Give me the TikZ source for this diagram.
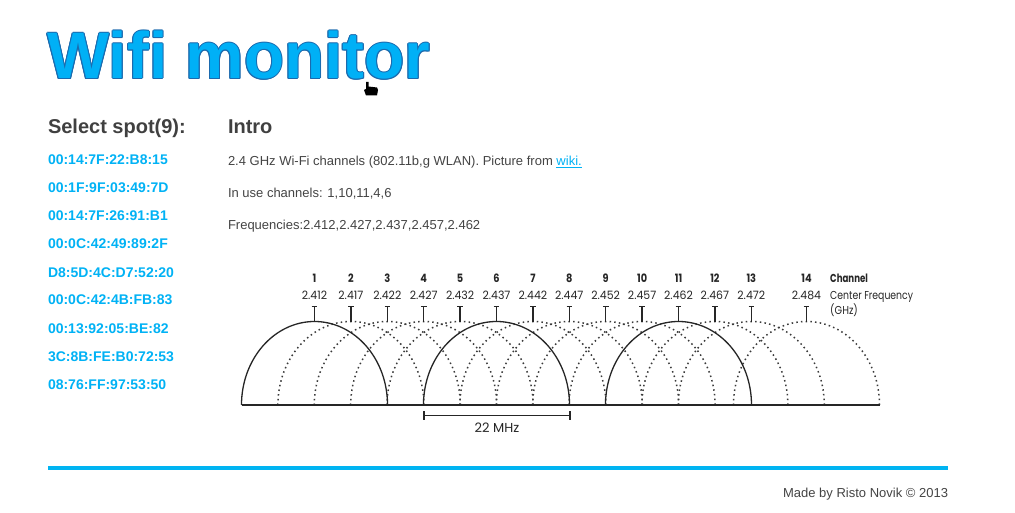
\documentclass[tikz,border=0pt]{standalone}
\usepackage{fontspec}
\setmainfont{Liberation Sans}
\newfontfamily\diagfont{Poppins}
\definecolor{headgray}{HTML}{404040}
\definecolor{bodygray}{HTML}{444444}
\definecolor{maccyan}{HTML}{00B2F5}
\definecolor{titlefill}{HTML}{00B0F6}
\definecolor{titleedge}{HTML}{1B6AAE}
\definecolor{footblue}{HTML}{00B4F2}
\definecolor{ink}{HTML}{262626}
\definecolor{dotink}{HTML}{3A3A3A}
\begin{document}
\begin{tikzpicture}[x=1pt,y=-1pt,
  txt/.style={anchor=base west, inner sep=0pt, outer sep=0pt},
  titletxt/.style={txt, font=\fontsize{65.7}{66}\selectfont\bfseries},
  headtxt/.style={txt, text=headgray, font=\fontsize{20}{20}\selectfont\bfseries},
  mactxt/.style={txt, text=maccyan, font=\fontsize{14}{14}\selectfont\bfseries},
  bodytxt/.style={txt, text=bodygray, font=\fontsize{13}{13}\selectfont},
  chnum/.style={anchor=base, inner sep=0pt, text=ink, font=\diagfont\fontsize{11.5}{11.5}\selectfont\bfseries},
  chfreq/.style={anchor=base, inner sep=0pt, text=ink, font=\diagfont\fontsize{11.5}{11.5}\selectfont},
  legtxt/.style={anchor=base west, inner sep=0pt, text=ink, font=\diagfont\fontsize{11.5}{11.5}\selectfont},
  solidarch/.style={draw=ink, line width=1.3pt},
  dotarch/.style={draw=dotink, line width=1.5pt, dash pattern=on 1.5pt off 3.2pt},
  tickline/.style={draw=ink, line width=1.3pt},
]
\path[use as bounding box, fill=white] (0,0) rectangle (1015,513);

% title with outline
\foreach \dx/\dy [count=\i] in {1/0,-1/0,0/1,0/-1,0.7/0.7,-0.7/0.7,0.7/-0.7,-0.7/-0.7}
  \node[titletxt, text=titleedge] (titleedge\i) at (47.5+\dx,79+\dy) {Wifi monitor};
\node[titletxt, text=titlefill] (title) at (47.5,79) {Wifi monitor};

% cursor
\fill[black] (366,82) -- (368.5,82) -- (368.5,86.5) -- (377,87.5) -- (378,90) -- (377,95.5) -- (366,95.5) -- (364,90) -- (366,89) -- cycle;

% left column
\node[headtxt] (selecthead) at (48,134) {Select spot(9):};
\foreach \m [count=\i] in {00:14:7F:22:B8:15,00:1F:9F:03:49:7D,00:14:7F:26:91:B1,00:0C:42:49:89:2F,D8:5D:4C:D7:52:20,00:0C:42:4B:FB:83,00:13:92:05:BE:82,3C:8B:FE:B0:72:53,08:76:FF:97:53:50}
  \node[mactxt] (mac\i) at (48,{165+28*(\i-1)}) {\m};

% intro
\node[headtxt] (introhead) at (228,134) {Intro};
\node[bodytxt] (intro1) at (228,166) {2.4 GHz Wi-Fi channels (802.11b,g WLAN). Picture from \textcolor{maccyan}{\underline{wiki.}}};
\node[bodytxt] (intro2) at (228,198) {In use channels: 1,10,11,4,6};
\node[bodytxt] (intro3) at (228,230) {Frequencies:2.412,2.427,2.437,2.457,2.462};

% channel diagram
\foreach \k in {1,...,13}
  \coordinate (ch\k) at ({314.5+36.4*(\k-1)},405);
\coordinate (ch14) at (806.5,405);

\foreach \k in {2,3,4,5,7,8,9,10,12,13,14}
  \draw[dotarch] ([xshift=-73pt]ch\k) arc[start angle=180, end angle=0, x radius=73pt, y radius=83.5pt];
\foreach \k in {1,6,11}
  \draw[solidarch] ([xshift=-73pt]ch\k) arc[start angle=180, end angle=0, x radius=73pt, y radius=83.5pt];

\coordinate (baseL) at (242,405);
\coordinate (baseR) at (880,405);
\draw[ink, line width=1.8pt] (baseL) -- (baseR);

\foreach \k/\f in {1/2.412,2/2.417,3/2.422,4/2.427,5/2.432,6/2.437,7/2.442,8/2.447,9/2.452,10/2.457,11/2.462,12/2.467,13/2.472,14/2.484}{
  \draw[tickline] ([yshift=83.5pt]ch\k) -- ([yshift=98.5pt]ch\k);
  \draw[tickline] ([yshift=98.5pt,xshift=-2.8pt]ch\k) -- ([yshift=98.5pt,xshift=2.8pt]ch\k);
  \node[chnum] (num\k) at ([yshift=122pt]ch\k) {\scalebox{0.85}[1]{\k}};
  \node[chfreq] (freq\k) at ([yshift=106pt]ch\k) {\scalebox{0.95}[1]{\f}};
}
\node[legtxt, font=\diagfont\fontsize{11.5}{11.5}\selectfont\bfseries] (legch) at (830,283) {\scalebox{0.75}[1]{Channel}};
\node[legtxt] (legcf) at (830,299) {\scalebox{0.81}[1]{Center Frequency}};
\node[legtxt] (legghz) at (830,314) {\scalebox{0.85}[1]{(GHz)}};

% 22 MHz bracket
\coordinate (brL) at (424,415.5);
\coordinate (brR) at (570,415.5);
\draw[ink, line width=1.5pt] (brL) -- (brR);
\draw[ink, line width=1.5pt] ([yshift=4.5pt]brL) -- ([yshift=-4.5pt]brL);
\draw[ink, line width=1.5pt] ([yshift=4.5pt]brR) -- ([yshift=-4.5pt]brR);
\node[chfreq, font=\diagfont\fontsize{13}{13}\selectfont] (mhz) at (497,432) {22 MHz};

% footer
\coordinate (fl) at (48,468);
\coordinate (fr) at (948,468);
\draw[footblue, line width=4pt] (fl) -- (fr);
\node[bodytxt, anchor=base east] (footer) at (948,497) {Made by Risto Novik © 2013};
\end{tikzpicture}
\end{document}
